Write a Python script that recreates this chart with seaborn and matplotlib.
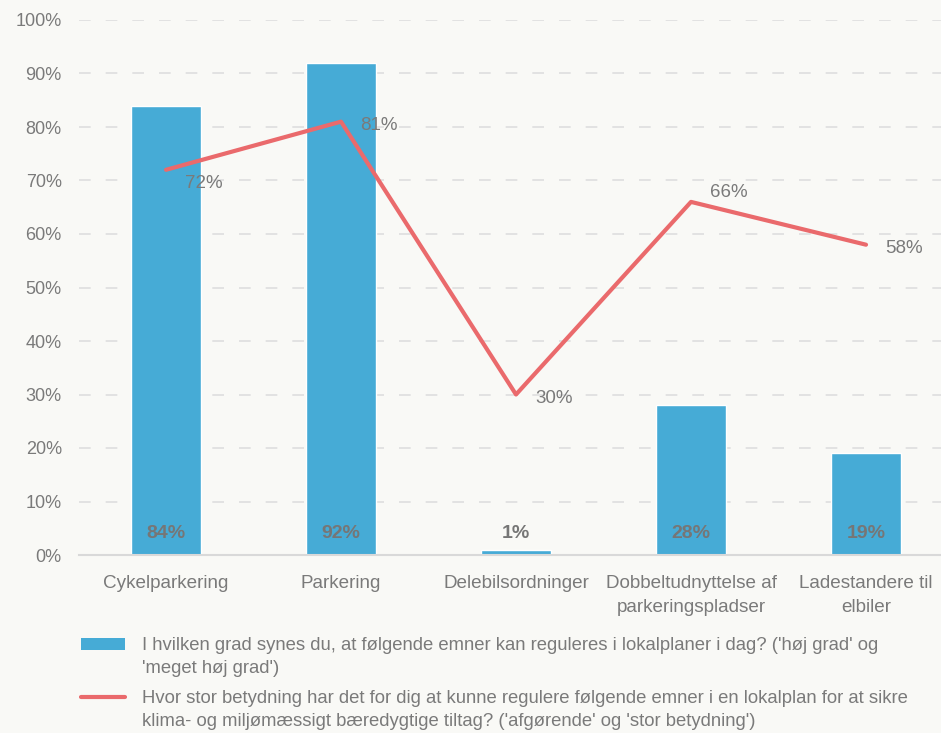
import matplotlib
matplotlib.use("Agg")
import matplotlib.pyplot as plt
from matplotlib.patches import Rectangle
from matplotlib.lines import Line2D
import pandas as pd
import seaborn as sns

categories = ["Cykelparkering", "Parkering", "Delebilsordninger",
              "Dobbeltudnyttelse af\nparkeringspladser", "Ladestandere til\nelbiler"]
bar_values = [84, 92, 1, 28, 19]
line_values = [72, 81, 30, 66, 58]
bar_name = ("I hvilken grad synes du, at følgende emner kan reguleres i lokalplaner i dag? ('høj grad' og\n"
            "'meget høj grad')")
line_name = ("Hvor stor betydning har det for dig at kunne regulere følgende emner i en lokalplan for at sikre\n"
             "klima- og miljømæssigt bæredygtige tiltag? ('afgørende' og 'stor betydning')")

BG = "#f9f9f6"
BLUE = "#46abd6"
RED = "#ea6a6c"
GREY = "#7a7a7a"
W, H = 941, 733

df = pd.DataFrame({"cat": categories, "bar": bar_values, "line": line_values})

sns.set_theme(style="white")
plt.rcParams["font.family"] = ["Liberation Sans", "DejaVu Sans"]

fig = plt.figure(figsize=(W / 100, H / 100), dpi=100, facecolor=BG)
ax = fig.add_axes([78.5 / W, 178 / H, 875 / W, 535 / H])
ax.set_facecolor(BG)

sns.barplot(data=df, x="cat", y="bar", color=BLUE, width=0.4, saturation=1, ax=ax, zorder=2)
sns.pointplot(data=df, x="cat", y="line", color=RED, markers="", linestyles="-",
              errorbar=None, linewidth=3, ax=ax, zorder=3)

# value labels inside the bars, near the base
for i, v in enumerate(bar_values):
    ax.text(i, 4.1, f"{v}%", ha="center", va="center", fontsize=14,
            fontweight="bold", color="#767676", zorder=4)

# line labels, offset to the right
label_dy = [-10, -2.5, -3, 7, -3]
for i, (v, dy) in enumerate(zip(line_values, label_dy)):
    ax.annotate(f"{v}%", (i, v), xytext=(14, dy), textcoords="offset points",
                ha="left", va="center", fontsize=13.5, color=GREY, zorder=4)

ax.set_xlim(-0.5, 4.5)
ax.set_ylim(0, 100)
ax.set_yticks(range(0, 101, 10))
ax.set_yticklabels([f"{t}%" for t in range(0, 101, 10)])
ax.set_xlabel("")
ax.set_ylabel("")
ax.tick_params(axis="y", length=0, pad=12, labelsize=13, labelcolor=GREY)
ax.tick_params(axis="x", length=0, pad=14.5, labelsize=13.6, labelcolor=GREY)
for t in ax.get_xticklabels():
    t.set_linespacing(1.5)
ax.yaxis.grid(True, color="#dedede", linestyle=(0, (7, 9)), linewidth=1.2, zorder=0)
ax.set_axisbelow(True)
for s in ["left", "right", "top"]:
    ax.spines[s].set_visible(False)
ax.spines["bottom"].set_color("#d9d9d9")
ax.spines["bottom"].set_linewidth(1.5)

# legend: handles aligned with the first line of each wrapped label
fig.add_artist(Rectangle((81 / W, (H - 650) / H), 44 / W, 12 / H,
                         transform=fig.transFigure, facecolor=BLUE, edgecolor="none"))
fig.add_artist(Line2D([81 / W, 125 / W], [(H - 697) / H] * 2,
                      transform=fig.transFigure, color=RED, linewidth=3))
# baseline of a multi-line text refers to its last line
fig.text(142 / W, (H - 673) / H, bar_name, ha="left", va="baseline",
         fontsize=13.35, color=GREY, linespacing=1.47)
fig.text(142 / W, (H - 726) / H, line_name, ha="left", va="baseline",
         fontsize=13.35, color=GREY, linespacing=1.47)

fig.savefig("out.png", dpi=100, facecolor=BG)
